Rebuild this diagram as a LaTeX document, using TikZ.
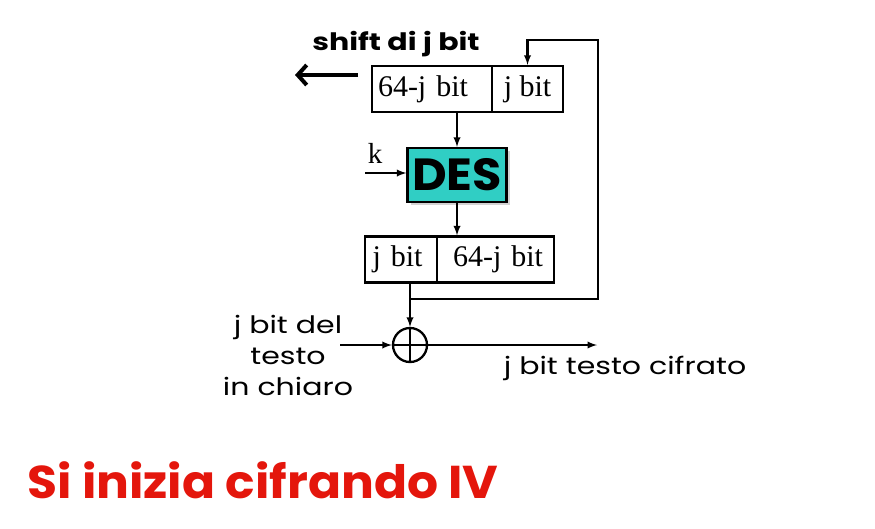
\documentclass[tikz,border=0pt]{standalone}
\usepackage{fontspec}
\setmainfont{Liberation Serif}
\newfontfamily\handfont[FakeStretch=1.25]{Poppins}
\newfontfamily\titlefont[FakeStretch=1.06]{Poppins}
\usetikzlibrary{arrows.meta,shadows}
\definecolor{desbox}{RGB}{48,206,196}
\definecolor{titlered}{RGB}{228,22,12}
\tikzstyle{reg}=[draw, line width=2.3pt, minimum height=46pt, inner sep=0pt, font=\fontsize{30}{30}\selectfont]
\tikzstyle{wire}=[line width=2.2pt]
\tikzstyle{hand}=[font=\handfont\fontsize{24}{31}\selectfont]

\begin{document}
\begin{tikzpicture}[x=1pt,y=-1pt]
  \useasboundingbox (0,0) rectangle (875,528);
  %% registers and cipher
  \draw (432,89) node[reg,text width=108pt,inner xsep=6pt,align=left] (T1) {64-j bit};
  \draw (527.5,89) node[reg,minimum width=71pt] (T2) {j bit};
  \draw (457,175) node[draw,line width=2.3pt,fill=desbox,minimum width=99pt,minimum height=54pt,inner sep=0pt,
    drop shadow={opacity=0.35,shadow xshift=3pt,shadow yshift=-3pt},
    font=\titlefont\bfseries\fontsize{45}{45}\selectfont] (DES) {DES};
  \draw (401,259.5) node[reg,text width=57pt,inner xsep=7.5pt,align=left] (B1) {j bit};
  \draw (495.5,259.5) node[reg,text width=95pt,inner xsep=11pt,align=right] (B2) {64-j bit};
  \draw (410,345) node[circle,draw,line width=2.3pt,minimum size=34pt,inner sep=0pt] (XOR) {};
  \draw[wire] (XOR.north) -- (XOR.south) (XOR.west) -- (XOR.east);

  \coordinate (J) at (410,299);
  \coordinate (R) at (598,40);
  \coordinate (K) at (365,173);
  \coordinate (IN) at (340,345);
  \coordinate (OUT) at (597,345);
  \coordinate (SH1) at (358,75);
  \coordinate (SH2) at (295,75);

  \draw[-latex,wire] (T1.south -| DES.north) -- (DES.north);
  \draw[-latex,wire] (DES.south) -- (DES.south |- B2.north);
  \draw[-latex,wire] (B1.south -| XOR.north) -- (XOR.north);
  \draw[-latex,wire] (J) -| (R) -| (T2.north);
  \draw[-latex,wire] (K) -- (K -| DES.west);
  \draw[-latex,wire] (IN) -- (XOR.west);
  \draw[-latex,wire] (XOR.east) -- (OUT);
  \draw[-{Straight Barb[length=9pt,width=20pt]},line width=4pt] (SH1) -- (SH2);

  %% labels
  \draw (375,153) node[font=\fontsize{29}{29}\selectfont] (klabel) {k};
  \draw (396,44) node[font=\handfont\bfseries\fontsize{24}{24}\selectfont] (shiftlabel) {shift di j bit};
  \draw (288,355) node[hand,align=center] (plainlabel) {j bit del\\testo\\in chiaro};
  \draw (625,368) node[hand] (cipherlabel) {j bit testo cifrato};
  \draw (263,480) node[font=\titlefont\bfseries\fontsize{46}{46}\selectfont,text=titlered] (title) {Si inizia cifrando IV};
\end{tikzpicture}
\end{document}
